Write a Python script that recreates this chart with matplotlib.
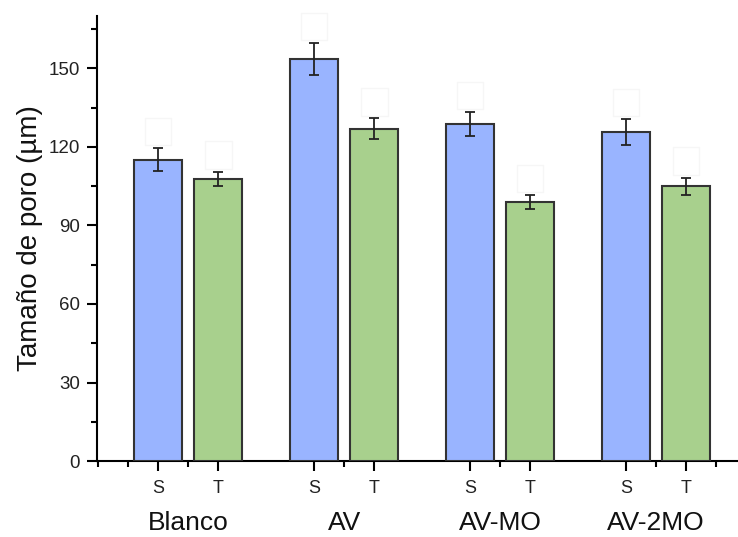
import matplotlib.pyplot as plt
from matplotlib.ticker import FixedLocator

plt.rcParams.update({
    "font.family": ["Liberation Sans", "DejaVu Sans"],
    "axes.linewidth": 1.5,
    "xtick.major.width": 1.5,
    "ytick.major.width": 1.5,
    "xtick.minor.width": 1.5,
    "ytick.minor.width": 1.5,
})

groups = ["Blanco", "AV", "AV-MO", "AV-2MO"]
subs = ["S", "T"]
s_values = [115.2, 153.6, 128.8, 125.7]
s_errors = [4.3, 6.0, 4.5, 4.9]
t_values = [107.7, 126.9, 98.9, 105.0]
t_errors = [2.7, 4.0, 2.7, 3.3]

blue = "#99b4ff"
green = "#a8d08d"

group_step = 2.59
centers = [i * group_step + 0.5 for i in range(len(groups))]
s_pos = [c - 0.5 for c in centers]
t_pos = [c + 0.5 for c in centers]

fig = plt.figure(figsize=(7.38, 5.37), dpi=100)
ax = fig.add_axes([0.131, 0.1415, 0.869, 0.8285])

bar_kw = dict(width=0.8, edgecolor="#333333", linewidth=1.5, zorder=3,
              error_kw=dict(elinewidth=1.3, capthick=1.3, capsize=3.8, ecolor="#222222"))
ax.bar(s_pos, s_values, yerr=s_errors, color=blue, **bar_kw)
ax.bar(t_pos, t_values, yerr=t_errors, color=green, **bar_kw)

# faint empty label boxes above each bar
for xs, vals, errs in [(s_pos, s_values, s_errors), (t_pos, t_values, t_errors)]:
    for x, v, e in zip(xs, vals, errs):
        ax.annotate("M", xy=(x, v + e), xytext=(0, 7), textcoords="offset points",
                    ha="center", va="bottom", fontsize=11, color="white",
                    bbox=dict(boxstyle="square,pad=0.45", fc="white", ec="#f6f6f6", lw=1))

ax.set_xlim(-1.02, 9.63)
ax.set_ylim(0, 170)

ax.spines["top"].set_visible(False)
ax.spines["right"].set_visible(False)

ax.set_yticks([0, 30, 60, 90, 120, 150])
ax.yaxis.set_minor_locator(FixedLocator([15, 45, 75, 105, 135, 165]))
ax.tick_params(axis="y", which="major", length=7, labelsize=13.5, pad=5, labelcolor="#222222")
ax.tick_params(axis="y", which="minor", length=4)

ticks = []
labels = []
for sp, tp in zip(s_pos, t_pos):
    ticks += [sp, tp]
    labels += subs
ax.set_xticks(ticks)
ax.set_xticklabels(labels)
minor_x = [-1.0, s_pos[0] - 0.5] + [sp + 0.5 for sp in s_pos] + [t_pos[-1] + 0.5]
ax.xaxis.set_minor_locator(FixedLocator(minor_x))
ax.tick_params(axis="x", which="major", length=7, labelsize=13, pad=7, labelcolor="#222222")
ax.tick_params(axis="x", which="minor", length=4)

for c, g in zip(centers, groups):
    ax.text(c, -0.139, g, transform=ax.get_xaxis_transform(),
            ha="center", va="center", fontsize=19, color="#111111")

ax.set_ylabel("Tamaño de poro (µm)", fontsize=20, labelpad=4, color="#111111")

fig.savefig("out.png", dpi=100)
